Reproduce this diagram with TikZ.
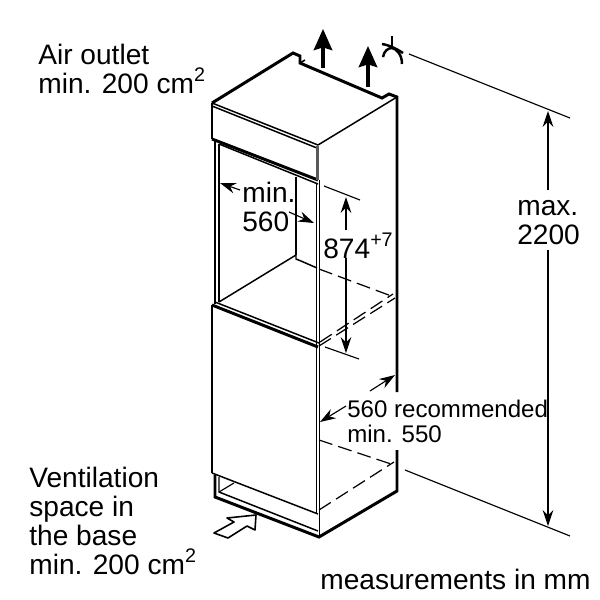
\documentclass[tikz,border=0pt]{standalone}
\usepackage{fontspec}
\setmainfont{Liberation Sans}
\usetikzlibrary{arrows.meta}
\tikzset{
  heavy/.style={line width=1.7pt,line join=miter},
  body/.style={line width=0.85pt},
  fine/.style={line width=0.65pt},
  hidden/.style={line width=0.7pt,dash pattern=on 8pt off 3.5pt},
  dim/.style={fine,-{Stealth[length=9pt,width=6pt]}},
  airflow/.style={line width=1.9pt,-{Stealth[length=12pt,width=10.5pt,inset=1.5pt]}},
  label/.style={inner sep=0pt,anchor=base west,font=\fontsize{16}{16.4}\selectfont},
  lines/.style={label,align=left}
}
\begin{document}
\begin{tikzpicture}[x=0.02cm,y=-0.02cm]
  \useasboundingbox (0,0) rectangle (600,600);

  % top of the housing
  \draw[heavy] (212,103)--(293,53)--(300,56)--(300,63)--(382,98)--(389,94)--(397,97)--(397,392);
  \draw[body] (300,63)--(305,60);
  \draw[body] (318,145)--(397,97);
  \draw[body] (212,103)--(318,145);
  \draw[body] (212,106)--(317,148);

  % upper band
  \draw[heavy] (212,103)--(212,139);
  \draw[heavy] (212,139)--(318,180);
  \draw[body] (219,144)--(318,184);
  \draw[line width=2pt,black!65] (317.5,146)--(317.5,180);

  % opening
  \draw[heavy] (215,139)--(215,304);
  \draw[body] (219,144)--(219,302);
  \draw[body] (296,177)--(296,255);
  \draw[body] (219,302)--(296,255)--(296,259)--(301,261);
  \draw[body] (301,261)--(317,268);
  \draw[body] (316.5,184)--(316.5,347);
  \draw[body] (319.5,180)--(319.5,347);

  % door
  \draw[heavy] (212,305)--(212,473);
  \draw[heavy] (212,305)--(318,347);
  \draw[body] (215,302)--(319,343);
  \draw[body] (212,473)--(318,514);
  \draw[line width=0.9pt] (316.5,347)--(316.5,514);
  \draw[line width=0.9pt] (319.5,347)--(319.5,537);

  % plinth
  \draw[heavy] (215,475)--(215,497)--(319,537)--(397,491)--(397,450);
  \draw[body] (219,477)--(219,492)--(318,531);
  \draw[fine] (219,492)--(234,483);

  % hidden edges
  \draw[hidden] (319,269)--(394,297);
  \draw[hidden] (319,346)--(395,298);
  \draw[hidden] (320,342)--(393,294);
  \draw[hidden] (319,440)--(394,465);
  \draw[hidden] (319,510)--(394,462);

  % air flow
  \draw[airflow] (323,68)--(323,29);
  \draw[airflow] (368,87)--(368,46);
  \draw[line width=0.9pt,fill=white,line join=round] (214,533)--(234,522)--(227,518)--(256,515)--(255,530)--(247,526)--(228,538)--cycle;

  % height symbol
  \draw[line width=1.4pt] (392,36)--(392,48);
  \draw[line width=1.4pt] (382,44) .. controls (389,45) and (397,49) .. (403,53);
  \draw[line width=1.4pt] (383,57) .. controls (384,51) and (388,48) .. (392,48) .. controls (397,49) and (402,55) .. (402,64);

  % measures
  \draw[fine] (409,54)--(570,118);
  \draw[fine] (405,470)--(570,536);
  \draw[dim] (548,190)--(548,111);
  \draw[dim] (548,250)--(548,526);
  \draw[fine] (324,186)--(360,200);
  \draw[fine] (325,347)--(359,359);
  \draw[dim] (346,230)--(346,197);
  \draw[dim] (346,258)--(346,353);
  \draw[dim] (240,190)--(220,183);
  \draw[dim] (289,212)--(314,223);
  \draw[dim] (370,391)--(395,375);
  \draw[dim] (346,406)--(320,422);

  \node[lines] (outlet) at (38,93) {Air outlet\\min. 200 cm\textsuperscript{2}};
  \node[lines] (base) at (29,574) {Ventilation\\space in\\the base\\min. 200 cm\textsuperscript{2}};
  \node[label] (units) at (320,589) {measurements in mm};
  \node[lines] (height) at (517,244) {max.\\2200};
  \node[lines] (niche) at (242,231) {min.\\560};
  \node[label] (opening) at (323,258) {874\textsuperscript{+7}};
  \node[lines,font=\fontsize{13.7}{13.7}\selectfont] (depth) at (347,442) {560 recommended\\min. 550};
\end{tikzpicture}
\end{document}
